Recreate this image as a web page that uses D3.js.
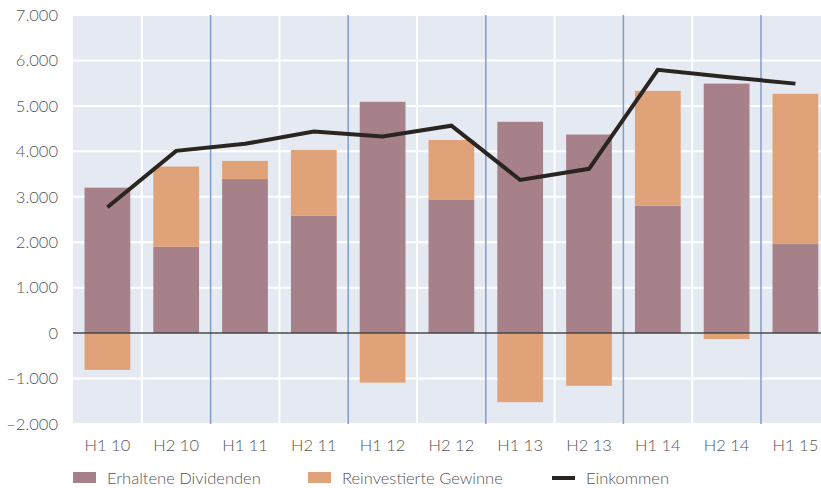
<!DOCTYPE html>
<html>
<head>
<meta charset="utf-8">
<script src="https://cdn.jsdelivr.net/npm/d3@7"></script>
<style>
  body { margin: 0; background: #fff; }
  text { font-family: "Lato", "Open Sans", sans-serif; font-weight: 300; fill: #555; }
</style>
</head>
<body>
<div id="chart"></div>
<script>
// Daten
const categories = ['H1 10', 'H2 10', 'H1 11', 'H2 11', 'H1 12', 'H2 12', 'H1 13', 'H2 13', 'H1 14', 'H2 14', 'H1 15']
const dividenden = [3200, 1900, 3390, 2580, 5090, 2930, 4650, 4370, 2800, 5490, 1960]
const reinvestiert = [-810, 1765, 400, 1450, -1090, 1320, -1520, -1160, 2530, -130, 3305]
const einkommen = [2770, 4010, 4165, 4435, 4325, 4565, 3370, 3615, 5795, 5635, 5490]
const yTicks = [-2000, -1000, 0, 1000, 2000, 3000, 4000, 5000, 6000, 7000]

const width = 821, height = 488
const plotLeft = 73, plotTop = 15, plotBottom = 424
const band = 68.8

const colDiv = '#a6818a', colRein = '#e0a279', colLine = '#2a2520'

const svg = d3.select('#chart').append('svg')
  .attr('width', width)
  .attr('height', height)

const x = d3.scaleBand()
  .domain(categories)
  .range([plotLeft, plotLeft + band * categories.length])
  .paddingInner(0.335)
  .paddingOuter(0.1675)

const y = d3.scaleLinear()
  .domain([-2000, 7000])
  .range([plotBottom, plotTop])

// Hintergrund
svg.append('rect')
  .attr('x', plotLeft).attr('y', plotTop)
  .attr('width', band * categories.length).attr('height', plotBottom - plotTop)
  .attr('fill', '#e5e9f1')

// horizontale Gitterlinien
svg.append('g').selectAll('line')
  .data(yTicks)
  .join('line')
  .attr('x1', plotLeft).attr('x2', plotLeft + band * categories.length)
  .attr('y1', d => y(d)).attr('y2', d => y(d))
  .attr('stroke', '#fff').attr('stroke-width', 2)

// vertikale Gitterlinien (Halbjahr weiß, Jahr blau)
const boundaries = d3.range(1, categories.length)
svg.append('g').selectAll('line')
  .data(boundaries)
  .join('line')
  .attr('x1', i => plotLeft + i * band).attr('x2', i => plotLeft + i * band)
  .attr('y1', plotTop).attr('y2', plotBottom)
  .attr('stroke', i => i % 2 === 0 ? '#7f9ccb' : '#fff')
  .attr('stroke-width', i => i % 2 === 0 ? 1.5 : 2)

// Balken: Dividenden
svg.append('g').selectAll('rect')
  .data(categories)
  .join('rect')
  .attr('x', d => x(d))
  .attr('width', x.bandwidth())
  .attr('y', (d, i) => y(Math.max(0, dividenden[i])))
  .attr('height', (d, i) => Math.abs(y(0) - y(dividenden[i])))
  .attr('fill', colDiv)

// Balken: reinvestierte Gewinne (gestapelt, negative unter Null)
svg.append('g').selectAll('rect')
  .data(categories)
  .join('rect')
  .attr('x', d => x(d))
  .attr('width', x.bandwidth())
  .attr('y', (d, i) => reinvestiert[i] >= 0 ? y(dividenden[i] + reinvestiert[i]) : y(0))
  .attr('height', (d, i) => Math.abs(y(0) - y(reinvestiert[i])))
  .attr('fill', colRein)

// Nulllinie
svg.append('line')
  .attr('x1', plotLeft).attr('x2', width)
  .attr('y1', y(0)).attr('y2', y(0))
  .attr('stroke', '#444').attr('stroke-width', 1.5)

// Linie Einkommen
const line = d3.line()
  .x((d, i) => x(categories[i]) + x.bandwidth() / 2)
  .y(d => y(d))

svg.append('path')
  .datum(einkommen)
  .attr('d', line)
  .attr('fill', 'none')
  .attr('stroke', colLine)
  .attr('stroke-width', 4)

// Achsen
const fmt = d => d < 0 ? '\u2013' + d3.format(',')(-d).replace(/,/g, '.') : d3.format(',')(d).replace(/,/g, '.')

svg.append('g').selectAll('text')
  .data(yTicks)
  .join('text')
  .attr('x', 58).attr('y', d => y(d))
  .attr('dy', '0.35em')
  .attr('text-anchor', 'end')
  .style('font-size', '16.5px')
  .text(fmt)

svg.append('g').selectAll('text')
  .data(categories)
  .join('text')
  .attr('x', d => x(d) + x.bandwidth() / 2)
  .attr('y', 451)
  .attr('text-anchor', 'middle')
  .style('font-size', '16.5px')
  .text(d => d)

// Legende
const legendItems = [
  { label: 'Erhaltene Dividenden', color: colDiv, type: 'rect', x: 73 },
  { label: 'Reinvestierte Gewinne', color: colRein, type: 'rect', x: 308 },
  { label: 'Einkommen', color: colLine, type: 'line', x: 552 }
]

const legend = svg.append('g')
legend.selectAll('rect')
  .data(legendItems.filter(d => d.type === 'rect'))
  .join('rect')
  .attr('x', d => d.x).attr('y', 472)
  .attr('width', 23).attr('height', 11)
  .attr('fill', d => d.color)

legend.selectAll('line')
  .data(legendItems.filter(d => d.type === 'line'))
  .join('line')
  .attr('x1', d => d.x).attr('x2', d => d.x + 23)
  .attr('y1', 478).attr('y2', 478)
  .attr('stroke', d => d.color).attr('stroke-width', 4)

legend.selectAll('text')
  .data(legendItems)
  .join('text')
  .attr('x', d => d.x + 34).attr('y', 478)
  .attr('dy', '0.35em')
  .style('font-size', '16.5px')
  .text(d => d.label)
</script>
</body>
</html>
